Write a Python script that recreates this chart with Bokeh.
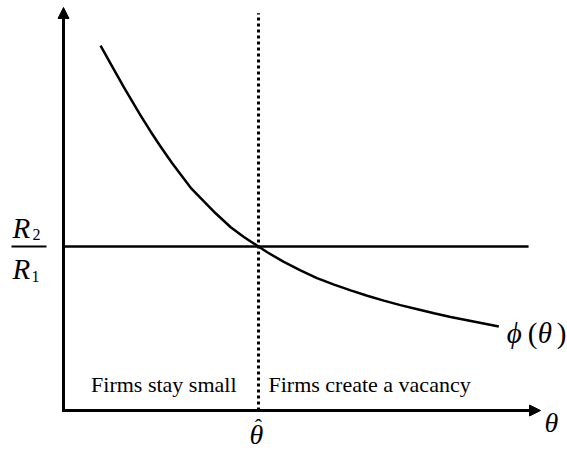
from bokeh.plotting import figure
from bokeh.models import Range1d, Arrow, NormalHead
from bokeh.core.properties import value
from bokeh.embed import file_html
from bokeh.resources import INLINE

# ---- data ----
theta = [0.76, 0.98, 1.24, 1.58, 1.79, 1.99, 2.23, 2.40, 2.61, 2.88, 3.12, 3.43, 3.70,
         4.00, 4.18, 4.51, 4.86, 5.20, 5.55, 5.89, 6.23, 6.57, 6.91, 7.26, 7.60, 7.94,
         8.28, 8.93]
phi = [8.90, 8.43, 7.88, 7.20, 6.80, 6.44, 6.03, 5.76, 5.43, 5.10, 4.81, 4.47, 4.23,
       4.00, 3.86, 3.63, 3.42, 3.23, 3.07, 2.93, 2.80, 2.68, 2.57, 2.47, 2.37, 2.28,
       2.20, 2.05]
theta_hat = 4.0        # threshold
ratio_level = 4.0      # R2/R1
theta_axis_end = 9.785
y_axis_end = 9.83
level_end = 9.54
dotted_top = 9.69
region_labels = ["Firms stay small", "Firms create a vacancy"]

SERIF = value("Liberation Serif")
SX = 48.75  # px per theta unit

p = figure(width=567, height=451,
           x_range=Range1d(-63 / SX, (567 - 63) / SX), y_range=Range1d(-1.0, 10.0),
           output_backend="svg", toolbar_location=None,
           x_axis_location=None, y_axis_location=None, min_border=0)
p.grid.visible = False
p.outline_line_color = None
p.background_fill_color = "white"
p.border_fill_color = "white"

# axes (L shape)
p.line([0, 0, theta_axis_end - 0.15], [y_axis_end - 0.2, 0, 0],
       line_color="black", line_width=3, line_join="miter")
p.add_layout(Arrow(end=NormalHead(size=11, fill_color="black", line_color="black", line_width=1),
                   x_start=0, y_start=y_axis_end - 0.4, x_end=0, y_end=y_axis_end,
                   line_width=3, line_color="black"))
p.add_layout(Arrow(end=NormalHead(size=11, fill_color="black", line_color="black", line_width=1),
                   x_start=theta_axis_end - 0.4, y_start=0, x_end=theta_axis_end, y_end=0,
                   line_width=3, line_color="black"))

# horizontal R2/R1 level
p.line([0, level_end], [ratio_level, ratio_level], line_color="black", line_width=2.5)

# dotted threshold line
p.line([theta_hat, theta_hat], [0, dotted_top], line_color="black", line_width=3,
       line_dash="3 3")

# phi(theta) curve
p.line(theta, phi, line_color="black", line_width=2.5, line_join="round")


def txt(x, y, s, size, dx, dy, italic=False, align="left"):
    p.text(x=[x], y=[y], text=[s], text_font=SERIF,
           text_font_style="italic" if italic else "normal",
           text_font_size=size, text_align=align, text_baseline="alphabetic",
           x_offset=dx, y_offset=dy, text_color="black")


# fraction R2/R1 at the level
txt(0, ratio_level, "R", "29px", -51, -19, italic=True)
txt(0, ratio_level, "2", "16px", -31, -12)
p.line([-52 / SX, -17 / SX], [ratio_level, ratio_level], line_color="black", line_width=2)
txt(0, ratio_level, "R", "29px", -51, 22, italic=True)
txt(0, ratio_level, "1", "16px", -32, 30)

# phi(theta) label
txt(theta[-1], phi[-1], "\u03d5", "29px", 8, 7, italic=True)
txt(theta[-1], phi[-1], "(", "29px", 29, 7)
txt(theta[-1], phi[-1], "\u03b8", "29px", 39, 7, italic=True)
txt(theta[-1], phi[-1], ")", "29px", 58, 7)

# theta axis label
txt(theta_axis_end, 0, "\u03b8", "28px", 4, 12, italic=True)

# theta-hat label
txt(theta_hat, 0, "\u03b8", "28px", -2, 24, italic=True, align="center")
txt(theta_hat, 0, "\u02c6", "22px", 0, 16, align="center")

# region labels
txt(theta_hat, 0, region_labels[0], "22px", -22, -26, align="right")
txt(theta_hat, 0, region_labels[1], "22px", 10, -26)

open("out.html", "w").write(file_html(p, INLINE))
